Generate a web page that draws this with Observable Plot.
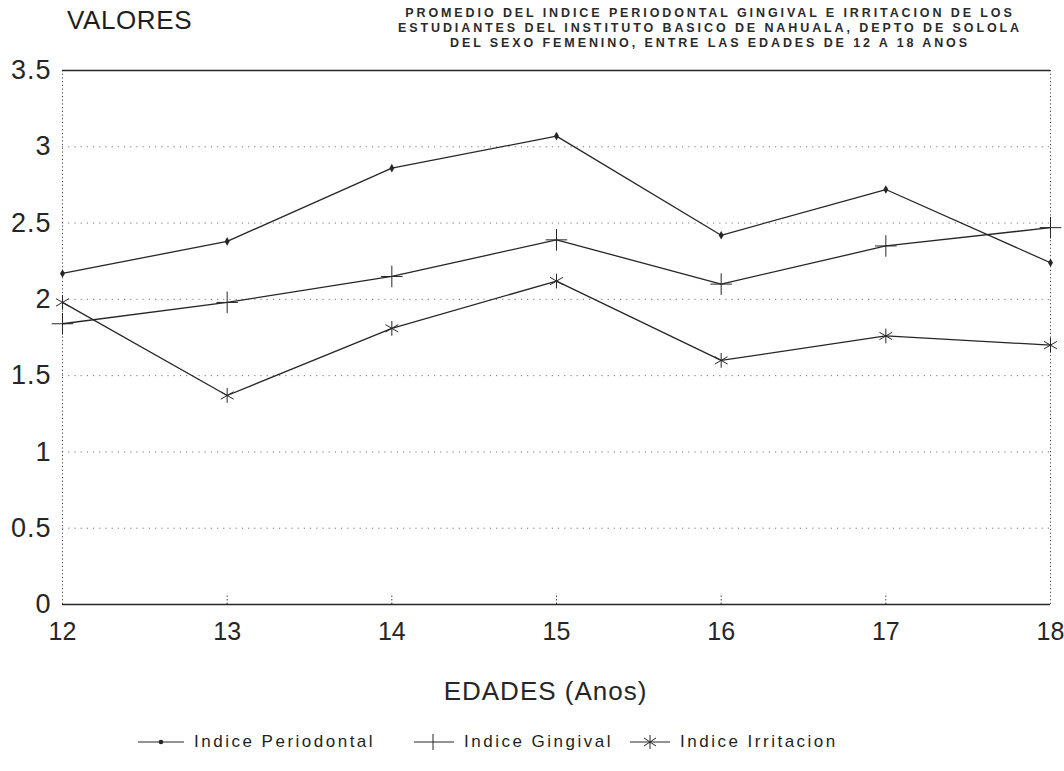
<!DOCTYPE html>
<html>
<head>
<meta charset="utf-8">
<script src="https://cdn.jsdelivr.net/npm/d3@7"></script>
<script src="https://cdn.jsdelivr.net/npm/@observablehq/plot@0.6"></script>
<style>
  html, body { margin: 0; padding: 0; background: #fff; }
  #wrap { position: relative; width: 1064px; height: 771px; overflow: hidden; font-family: "Liberation Sans", Arial, sans-serif; color: #1e1e1e; }
  #chart { position: absolute; left: 0; top: 0; }
  #valores { position: absolute; left: 67px; top: 5px; font-size: 26px; letter-spacing: 0.6px; }
  #title { position: absolute; left: 360px; width: 700px; top: 6px; text-align: center; font-size: 12.5px; font-weight: bold; letter-spacing: 2.9px; line-height: 15px; color: #2a2a2a; }
  #legend { position: absolute; left: 0; top: 732px; width: 1064px; height: 28px; }
  .li { position: absolute; top: 0; display: flex; align-items: center; font-size: 17px; letter-spacing: 2.5px; }
  .li svg { margin-right: 8px; }
</style>
</head>
<body>
<div id="wrap">
  <div id="chart"></div>
  <div id="valores">VALORES</div>
  <div id="title"></div>
  <div id="legend"></div>
</div>
<script>
// ---- data ----
const edades = [12, 13, 14, 15, 16, 17, 18];
const periodontal = [2.17, 2.38, 2.86, 3.07, 2.42, 2.72, 2.24];
const gingival = [1.84, 1.98, 2.15, 2.39, 2.10, 2.35, 2.47];
const irritacion = [1.98, 1.37, 1.81, 2.12, 1.60, 1.76, 1.70];
const seriesNames = ["Indice Periodontal", "Indice Gingival", "Indice Irritacion"];
const yTicks = [0, 0.5, 1, 1.5, 2, 2.5, 3, 3.5];
const yTickLabels = ["0", "0.5", "1", "1.5", "2", "2.5", "3", "3.5"];
const gridValues = [0.5, 1, 1.5, 2, 2.5, 3];
const titleLines = [
  "PROMEDIO DEL INDICE PERIODONTAL GINGIVAL E IRRITACION DE LOS",
  "ESTUDIANTES DEL INSTITUTO BASICO DE NAHUALA, DEPTO DE SOLOLA",
  "DEL SEXO FEMENINO, ENTRE LAS EDADES DE 12 A 18 ANOS"
];
const xTitle = "EDADES (Anos)";

const rows = (vals) => edades.map((e, i) => ({edad: e, v: vals[i]}));
const P = rows(periodontal), G = rows(gingival), I = rows(irritacion);
const ink = "#262626";

const plot = Plot.plot({
  width: 1064,
  height: 771,
  marginTop: 70,
  marginBottom: 167,
  marginLeft: 62,
  marginRight: 14,
  style: {fontFamily: "'Liberation Sans', Arial, sans-serif", background: "transparent", color: ink},
  x: {domain: [12, 18], ticks: edades},
  y: {domain: [0, 3.5], ticks: yTicks},
  marks: [
    Plot.ruleY(gridValues, {stroke: "#555", strokeWidth: 1, strokeDasharray: "1.2,5", strokeOpacity: 0.8}),
    Plot.ruleX([12, 18], {stroke: "#444", strokeWidth: 1, strokeDasharray: "1.2,2.5"}),
    Plot.ruleX(edades.slice(1, -1), {y1: 0, y2: 0.07, stroke: "#444", strokeWidth: 1, strokeDasharray: "1.5,2"}),
    Plot.ruleY([3.5], {stroke: ink, strokeWidth: 1.3}),
    Plot.ruleY([0], {stroke: ink, strokeWidth: 1.5}),
    Plot.axisY({ticks: yTicks, tickFormat: (d) => yTickLabels[yTicks.indexOf(d)], tickSize: 0, tickPadding: 11, fontSize: 27, label: null}),
    Plot.axisX({ticks: edades, tickFormat: d => String(d), tickSize: 0, tickPadding: 18, fontSize: 25, label: null}),
    Plot.text([xTitle], {frameAnchor: "bottom", dy: 87, dx: -11, fontSize: 26, lineAnchor: "middle", fill: ink}),
    Plot.line(P, {x: "edad", y: "v", stroke: ink, strokeWidth: 1.3}),
    Plot.line(G, {x: "edad", y: "v", stroke: ink, strokeWidth: 1.3}),
    Plot.line(I, {x: "edad", y: "v", stroke: ink, strokeWidth: 1.3}),
    Plot.dot(P, {x: "edad", y: "v", r: 2.6, fill: ink, symbol: "diamond"}),
    Plot.dot(G, {x: "edad", y: "v", r: 7, stroke: ink, strokeWidth: 1, symbol: "plus"}),
    Plot.dot(I, {x: "edad", y: "v", r: 7, stroke: ink, strokeWidth: 1, symbol: "asterisk"})
  ]
});
plot.querySelectorAll("[aria-label='y-axis tick label']").forEach(n => n.setAttribute("letter-spacing", "1"));
plot.querySelectorAll("[aria-label='text']").forEach(n => n.setAttribute("letter-spacing", "1"));
document.getElementById("chart").appendChild(plot);

// title
document.getElementById("title").innerHTML = titleLines.map(t => `<div>${t}</div>`).join("");

// legend
const legendPos = [138, 414, 630];
const sym = [
  `<line x1="0" y1="10" x2="46" y2="10" stroke="${ink}" stroke-width="1.2"/><circle cx="23" cy="10" r="2.3" fill="${ink}"/>`,
  `<line x1="0" y1="10" x2="40" y2="10" stroke="${ink}" stroke-width="1.2"/><line x1="19" y1="2" x2="19" y2="18" stroke="${ink}" stroke-width="1"/>`,
  `<line x1="0" y1="10" x2="40" y2="10" stroke="${ink}" stroke-width="1.2"/><g stroke="${ink}" stroke-width="1"><line x1="20" y1="3" x2="20" y2="17"/><line x1="14" y1="6" x2="26" y2="14"/><line x1="14" y1="14" x2="26" y2="6"/></g>`
];
const lg = document.getElementById("legend");
seriesNames.forEach((name, i) => {
  const d = document.createElement("div");
  d.className = "li";
  d.style.left = legendPos[i] + "px";
  const w = i === 0 ? 48 : 42;
  d.innerHTML = `<svg width="${w}" height="20">${sym[i]}</svg><span>${name}</span>`;
  lg.appendChild(d);
});
</script>
</body>
</html>
